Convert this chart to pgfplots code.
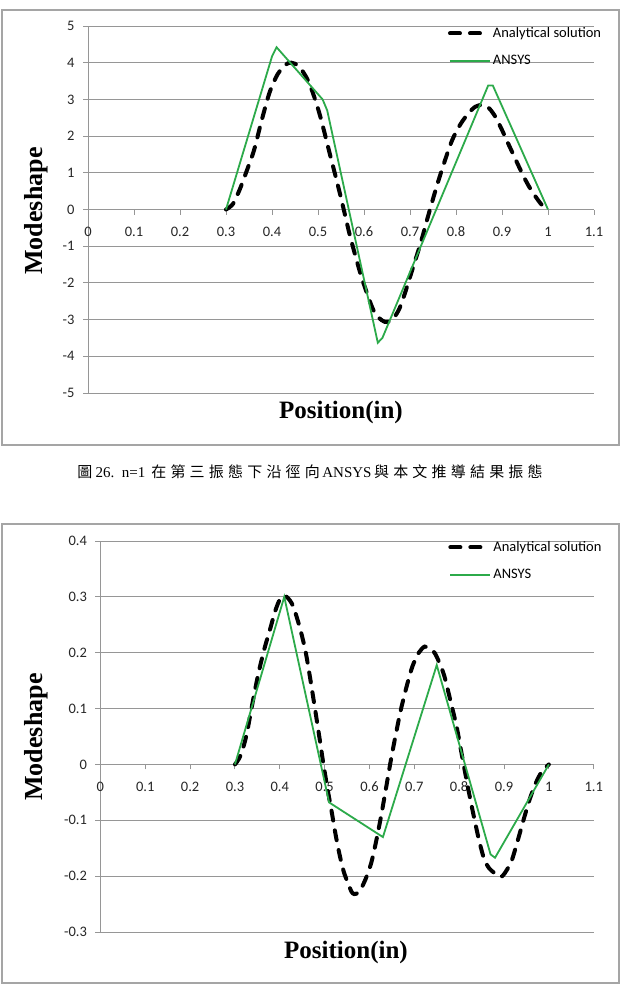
\documentclass[border=0pt]{standalone}
\usepackage{pgfplots}
\pgfplotsset{compat=1.18}
\usepackage{fontspec}
\setmainfont{Carlito}
\newfontfamily\serifb{Liberation Serif}
\newfontfamily\cjk[LetterSpace=28]{Noto Sans CJK TC}
\definecolor{ansys}{RGB}{44,170,74}
\definecolor{gridgray}{RGB}{150,150,150}
\definecolor{framegray}{RGB}{165,165,165}

\pgfplotsset{
  modestyle/.style={
    scale only axis, anchor=south west,
    axis x line=middle, axis y line=left,
    axis line style={gridgray,-,line width=0.9pt},
    xmin=0, xmax=1.1,
    xtick={0,0.1,0.2,0.3,0.4,0.5,0.6,0.7,0.8,0.9,1,1.1},
    hide obscured x ticks=false, hide obscured y ticks=false,
    ymajorgrids, grid style={gridgray,line width=0.9pt},
    tick style={gridgray,line width=0.9pt},
    major tick length=5pt, tick align=outside,
    ticklabel style={font=\fontsize{14.5}{15}\selectfont, black!85},
    xticklabel style={yshift=-9pt},
    yticklabel style={xshift=-5pt},
    /pgf/number format/assume math mode=true,
    legend cell align=left,
    legend image code/.code={\draw[##1] (0pt,0pt) -- (40pt,0pt);},
    legend style={draw=none, fill=none, inner sep=0pt,
      font=\fontsize{14.5}{15}\selectfont, row sep=16pt,
      nodes={inner xsep=1pt, inner ysep=0pt}},
  },
  anal/.style={black, line width=4pt, line cap=round, dash pattern=on 10pt off 10pt, smooth},
  ans/.style={ansys, line width=1.8pt},
}

\begin{document}
\begin{tikzpicture}[x=1pt,y=1pt]
\fill[white] (0,0) rectangle (621,-998);
\useasboundingbox (0,0) rectangle (621,-998);
\draw[framegray, line width=1.2pt] (2,-10) rectangle (619,-445);
\draw[framegray, line width=1.2pt] (2,-524) rectangle (619,-983);

% ---------- chart 1 ----------
\begin{axis}[modestyle, at={(88pt,-393pt)}, width=506pt, height=367pt,
  ymin=-5, ymax=5, ytick={-5,-4,-3,-2,-1,0,1,2,3,4,5},
  legend style={at={(axis description cs:0.711,0.996)}, anchor=north west}]
\addplot[anal] coordinates {
(0.300,0.00) (0.315,0.15) (0.330,0.55) (0.345,1.05) (0.361,1.62) (0.378,2.45)
(0.395,3.20) (0.412,3.68) (0.430,3.95) (0.442,4.00) (0.457,3.92) (0.470,3.70)
(0.481,3.44) (0.495,2.95) (0.507,2.44) (0.525,1.55) (0.542,0.72) (0.555,0.05)
(0.568,-0.64) (0.581,-1.25) (0.594,-1.82) (0.607,-2.30) (0.620,-2.73) (0.632,-2.95)
(0.645,-3.06) (0.655,-3.05) (0.665,-2.95) (0.677,-2.70) (0.689,-2.28) (0.706,-1.60)
(0.723,-0.92) (0.740,-0.15) (0.758,0.63) (0.775,1.30) (0.792,1.90) (0.810,2.33)
(0.827,2.62) (0.842,2.80) (0.857,2.85) (0.870,2.78) (0.883,2.58) (0.898,2.22)
(0.913,1.81) (0.930,1.35) (0.947,0.90) (0.960,0.60) (0.973,0.35) (0.987,0.12)
(1.000,0.00)};
\addlegendentry{Analytical solution}
\addplot[ans] coordinates {
(0.30,0) (0.40,4.17) (0.41,4.42) (0.51,3.00) (0.52,2.70) (0.63,-3.63)
(0.64,-3.50) (0.87,3.38) (0.88,3.38) (1.00,0)};
\addlegendentry{ANSYS}
\end{axis}

% ---------- chart 2 ----------
\begin{axis}[modestyle, at={(100.4pt,-932pt)}, width=493.3pt, height=391pt,
  ymin=-0.3, ymax=0.4, ytick={-0.3,-0.2,-0.1,0,0.1,0.2,0.3,0.4},
  legend style={at={(axis description cs:0.705,0.999)}, anchor=north west}]
\addplot[anal] coordinates {
(0.300,0.000) (0.312,0.015) (0.325,0.050) (0.338,0.105) (0.351,0.158) (0.365,0.205)
(0.378,0.241) (0.390,0.275) (0.400,0.295) (0.410,0.302) (0.418,0.298) (0.427,0.288)
(0.435,0.271) (0.447,0.238) (0.458,0.200) (0.469,0.148) (0.480,0.092) (0.489,0.045)
(0.498,-0.003) (0.507,-0.046) (0.516,-0.086) (0.525,-0.128) (0.534,-0.164) (0.543,-0.193)
(0.552,-0.212) (0.560,-0.228) (0.566,-0.232) (0.574,-0.230) (0.581,-0.223) (0.593,-0.202)
(0.604,-0.176) (0.615,-0.137) (0.626,-0.092) (0.637,-0.042) (0.648,0.009) (0.659,0.055)
(0.670,0.098) (0.683,0.140) (0.696,0.176) (0.710,0.200) (0.723,0.211) (0.735,0.207)
(0.745,0.200) (0.756,0.182) (0.767,0.158) (0.780,0.116) (0.794,0.069) (0.803,0.030)
(0.812,-0.009) (0.823,-0.055) (0.834,-0.098) (0.845,-0.138) (0.856,-0.170) (0.867,-0.186)
(0.878,-0.194) (0.887,-0.200) (0.896,-0.200) (0.907,-0.188) (0.918,-0.170) (0.931,-0.135)
(0.944,-0.098) (0.957,-0.063) (0.971,-0.033) (0.985,-0.012) (1.000,0.000)};
\addlegendentry{Analytical solution}
\addplot[ans] coordinates {
(0.30,0) (0.41,0.30) (0.51,-0.068) (0.63,-0.13) (0.75,0.178) (0.87,-0.161)
(0.88,-0.167) (1.00,0)};
\addlegendentry{ANSYS}
\end{axis}

% ---------- labels ----------
\node[font=\serifb\bfseries\fontsize{26}{26}\selectfont, rotate=90] at (36.5,-211) {Modeshape};
\node[font=\serifb\bfseries\fontsize{25}{25}\selectfont] at (341,-412) {Position(in)};
\node[font=\serifb\bfseries\fontsize{26}{26}\selectfont, rotate=90] at (36.5,-737) {Modeshape};
\node[font=\serifb\bfseries\fontsize{25}{25}\selectfont] at (346,-952) {Position(in)};

% ---------- caption ----------
\node[font=\fontsize{15}{15}\selectfont, inner sep=0pt] at (310,-472)
  {{\cjk 圖}\ {\serifb 26.\ \ n=1}\ \,{\cjk 在第三振態下沿徑向}\,{\serifb ANSYS}\,{\cjk 與本文推導結果振態}};
\end{tikzpicture}
\end{document}
